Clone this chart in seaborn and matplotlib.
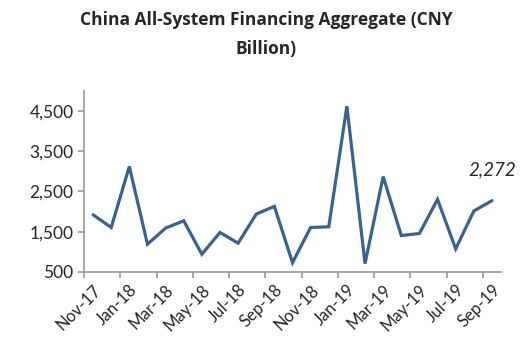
import matplotlib
matplotlib.use("Agg")
import matplotlib.pyplot as plt
import seaborn as sns
import pandas as pd
import numpy as np

# Monthly all-system financing aggregate, CNY billion
months = ["Nov-17", "Dec-17", "Jan-18", "Feb-18", "Mar-18", "Apr-18", "May-18",
          "Jun-18", "Jul-18", "Aug-18", "Sep-18", "Oct-18", "Nov-18", "Dec-18",
          "Jan-19", "Feb-19", "Mar-19", "Apr-19", "May-19", "Jun-19", "Jul-19",
          "Aug-19", "Sep-19"]
financing = [1922, 1605, 3120, 1191, 1590, 1772, 941, 1481, 1216, 1939, 2130,
             732, 1605, 1623, 4617, 707, 2870, 1406, 1456, 2304, 1074, 2014, 2272]
y_ticks = [500, 1500, 2500, 3500, 4500]
title = "China All-System Financing Aggregate (CNY\nBillion)"

df = pd.DataFrame({"idx": np.arange(len(months)), "month": months, "value": financing})

sns.set_style("ticks")
plt.rcParams["font.family"] = ["Lato", "DejaVu Sans"]

fig = plt.figure(figsize=(5.29, 3.47), dpi=100)
ax = fig.add_axes([84 / 529, 1 - 272 / 347, (501 - 84) / 529, (272 - 90.8) / 347])

line_color = "#3B6193"
sns.lineplot(data=df, x="idx", y="value", ax=ax, color=line_color, linewidth=2.3,
             solid_joinstyle="miter")

ax.set_xlim(-0.5, len(months) - 0.5)
ax.set_ylim(500, 5000)
ax.set_xlabel("")
ax.set_ylabel("")

# y axis
ax.set_yticks(y_ticks)
ax.set_yticklabels([f"{v:,}" for v in y_ticks], fontsize=12.5)

# x axis: labels every other month centred on categories, tick marks on boundaries
label_pos = df["idx"][::2].to_numpy()
ax.set_xticks(label_pos)
ax.set_xticklabels(df["month"][::2], rotation=45, ha="right",
                   rotation_mode="anchor", fontsize=12)
ax.set_xticks(label_pos - 0.5, minor=True)
ax.tick_params(axis="x", which="major", length=0, pad=7)
ax.tick_params(axis="x", which="minor", length=4.5, width=1.3, color="#A0A0A0")
ax.tick_params(axis="y", length=4.5, width=1.3, color="#A0A0A0", pad=3)

spine_color = "#A0A0A0"
for side in ["left", "bottom"]:
    ax.spines[side].set_color(spine_color)
    ax.spines[side].set_linewidth(1.3)
for side in ["top", "right"]:
    ax.spines[side].set_visible(False)

# label on the latest value
last = len(financing) - 1
ax.annotate(f"{financing[last]:,}", xy=(last, financing[last]),
            xytext=(0, 25), textcoords="offset pixels",
            ha="center", va="baseline", fontsize=13.5, style="italic")

fig.text(0.503, 0.968, title, ha="center", va="top", fontsize=12.5,
         fontweight="bold", linespacing=1.8, family=["Open Sans", "DejaVu Sans"])

fig.savefig("out.png", dpi=100)
